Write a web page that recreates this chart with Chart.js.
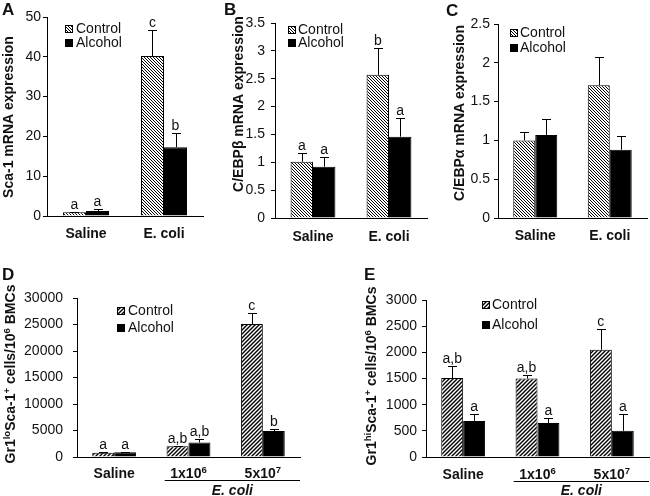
<!DOCTYPE html>
<html>
<head>
<meta charset="utf-8">
<script src="https://cdn.jsdelivr.net/npm/chart.js@4.4.0/dist/chart.umd.min.js"></script>
<style>
    html, body { margin: 0; padding: 0; background: #fff; }
    #wrap { position: relative; width: 650px; height: 496px; }
    #wrap canvas { position: absolute; left: 0; top: 0; }
</style>
</head>
<body>
<div id="wrap">
    <canvas id="panelA" width="650" height="496"></canvas>
    <canvas id="panelB" width="650" height="496"></canvas>
    <canvas id="panelC" width="650" height="496"></canvas>
    <canvas id="panelD" width="650" height="496"></canvas>
    <canvas id="panelE" width="650" height="496"></canvas>
</div>
<script>
// Categories
const mrnaGroups = ['Saline', 'E. coli'];
const cellGroups = ['Saline', '1x10^6', '5x10^7'];
const seriesNames = ['Control', 'Alcohol'];

// A: Sca-1 mRNA
const sca1Control = [0.95, 40.2];
const sca1ControlErr = [0.1, 6.5];
const sca1Alcohol = [1.25, 17.3];
const sca1AlcoholErr = [0.45, 3.6];
const sca1ControlLetters = ['a', 'c'];
const sca1AlcoholLetters = ['a', 'b'];

// B: C/EBPbeta mRNA
const cebpbControl = [1.01, 2.57];
const cebpbControlErr = [0.15, 0.48];
const cebpbAlcohol = [0.92, 1.46];
const cebpbAlcoholErr = [0.17, 0.34];
const cebpbControlLetters = ['a', 'b'];
const cebpbAlcoholLetters = ['a', 'a'];

// C: C/EBPalpha mRNA
const cebpaControl = [1.0, 1.71];
const cebpaControlErr = [0.11, 0.36];
const cebpaAlcohol = [1.07, 0.88];
const cebpaAlcoholErr = [0.2, 0.18];

// D: Gr1lo Sca-1+ cells
const grLoControl = [800, 2050, 25100];
const grLoControlErr = [50, 100, 2000];
const grLoAlcohol = [900, 2750, 4900];
const grLoAlcoholErr = [100, 600, 400];
const grLoControlLetters = ['a', 'a,b', 'c'];
const grLoAlcoholLetters = ['a', 'a,b', 'b'];

// E: Gr1hi Sca-1+ cells
const grHiControl = [1510, 1500, 2050];
const grHiControlErr = [220, 70, 400];
const grHiAlcohol = [690, 650, 500];
const grHiAlcoholErr = [130, 100, 320];
const grHiControlLetters = ['a,b', 'a,b', 'c'];
const grHiAlcoholLetters = ['a', 'a', 'a'];

const FONT = "'Liberation Sans', Arial, Helvetica, sans-serif";
const INK = '#111';
const X_AXIS_H = 10;

/**
 * Build a diagonal hatch fill
 */
function makeHatch(dir) {
    const s = dir === 'back' ? 3 : 4;
    const c = document.createElement('canvas');
    c.width = s; c.height = s;
    const g = c.getContext('2d');
    g.fillStyle = '#fff';
    g.fillRect(0, 0, s, s);
    g.strokeStyle = '#000';
    g.lineWidth = dir === 'back' ? 1 : 1.4;
    g.beginPath();
    if (dir === 'back') {
        g.moveTo(-1, -1); g.lineTo(s + 1, s + 1);
        g.moveTo(-1, s - 1); g.lineTo(1, s + 1);
        g.moveTo(s - 1, -1); g.lineTo(s + 1, 1);
    } else {
        g.moveTo(-1, s + 1); g.lineTo(s + 1, -1);
        g.moveTo(-1, 1); g.lineTo(1, -1);
        g.moveTo(s - 1, s + 1); g.lineTo(s + 1, s - 1);
    }
    g.stroke();
    return g.createPattern(c, 'repeat');
}

/**
 * Split "10^6" / "Gr1^{lo}" into normal and superscript parts
 */
function parseRich(str) {
    const parts = [];
    const re = /\^\{([^}]*)\}|\^(.)/g;
    let last = 0, m;
    while ((m = re.exec(str)) !== null) {
        if (m.index > last) parts.push({ t: str.slice(last, m.index), sup: false });
        parts.push({ t: m[1] !== undefined ? m[1] : m[2], sup: true });
        last = re.lastIndex;
    }
    if (last < str.length) parts.push({ t: str.slice(last), sup: false });
    return parts;
}

function fontFor(size, weight, style) {
    return `${style || 'normal'} ${weight || 'normal'} ${size}px ${FONT}`;
}

// draws text centred on (cx, cy), superscripts smaller and raised
function drawRich(ctx, str, cx, cy, size, weight, style) {
    const parts = parseRich(str);
    const supSize = size * 0.68;
    let total = 0;
    parts.forEach(p => {
        ctx.font = fontFor(p.sup ? supSize : size, weight, style);
        p.w = ctx.measureText(p.t).width;
        total += p.w;
    });
    let x = cx - total / 2;
    const base = cy + size * 0.35;
    ctx.textAlign = 'left';
    ctx.textBaseline = 'alphabetic';
    parts.forEach(p => {
        ctx.font = fontFor(p.sup ? supSize : size, weight, style);
        ctx.fillText(p.t, x, p.sup ? base - size * 0.36 : base);
        x += p.w;
    });
}

/**
 * Per-panel decorations: error bars, letters, labels, legend
 */
function makeDecor(cfg) {
    return {
        id: 'panelDecor',
        afterDatasetsDraw(chart) {
            const ctx = chart.ctx;
            const yScale = chart.scales.y;
            ctx.save();
            ctx.strokeStyle = '#000';
            ctx.lineWidth = 1;
            ctx.fillStyle = INK;
            chart.data.datasets.forEach((ds, di) => {
                const meta = chart.getDatasetMeta(di);
                meta.data.forEach((bar, i) => {
                    const top = Math.round(yScale.getPixelForValue(ds.data[i] + ds.errs[i])) + 0.5;
                    const x = Math.round(bar.x) + 0.5;
                    ctx.beginPath();
                    ctx.moveTo(x, bar.y);
                    ctx.lineTo(x, top);
                    ctx.moveTo(x - 4.5, top);
                    ctx.lineTo(x + 4.5, top);
                    ctx.stroke();
                    if (ds.letters) {
                        ctx.font = fontFor(14);
                        ctx.textAlign = 'center';
                        ctx.textBaseline = 'alphabetic';
                        ctx.fillText(ds.letters[i], bar.x, top - 4);
                    }
                });
            });
            ctx.restore();
        },
        afterDraw(chart) {
            const ctx = chart.ctx;
            const xScale = chart.scales.x;
            const area = chart.chartArea;
            ctx.save();
            ctx.fillStyle = INK;
            ctx.strokeStyle = '#000';

            // category labels
            chart.data.labels.forEach((lab, i) => {
                drawRich(ctx, lab, xScale.getPixelForValue(i), area.bottom + cfg.xLabelDy, 14, 'bold');
            });

            // E. coli group bar under the dose labels
            if (cfg.group) {
                const step = xScale.getPixelForValue(1) - xScale.getPixelForValue(0);
                const x0 = xScale.getPixelForValue(cfg.group.from) - step / 2 + step * 0.18;
                const x1 = area.right;
                ctx.lineWidth = 1;
                ctx.beginPath();
                ctx.moveTo(x0, cfg.group.lineY + 0.5);
                ctx.lineTo(x1, cfg.group.lineY + 0.5);
                ctx.stroke();
                drawRich(ctx, cfg.group.label, (x0 + x1) / 2, cfg.group.textY, 14, 'bold', 'italic');
            }

            // rotated y title
            ctx.save();
            ctx.translate(cfg.yTitlePos[0], cfg.yTitlePos[1]);
            ctx.rotate(-Math.PI / 2);
            drawRich(ctx, cfg.yTitle, 0, 0, 14, 'bold');
            ctx.restore();

            // legend
            const lg = cfg.legend;
            chart.data.datasets.forEach((ds, di) => {
                const cy = lg.y + di * lg.gap;
                const bx = lg.x, by = Math.round(cy - lg.box / 2);
                ctx.fillStyle = ds.backgroundColor;
                ctx.fillRect(bx, by, lg.box, lg.box);
                ctx.lineWidth = 1;
                ctx.strokeRect(bx + 0.5, by + 0.5, lg.box - 1, lg.box - 1);
                ctx.fillStyle = INK;
                ctx.font = fontFor(14);
                ctx.textAlign = 'left';
                ctx.textBaseline = 'middle';
                ctx.fillText(ds.label, lg.textX, cy);
            });

            // panel letter
            ctx.font = fontFor(17, 'bold');
            ctx.textAlign = 'left';
            ctx.textBaseline = 'alphabetic';
            ctx.fillText(cfg.letter, cfg.letterPos[0], cfg.letterPos[1]);
            ctx.restore();
        }
    };
}

function createPanel(cfg) {
    const hatch = makeHatch(cfg.hatch);
    // y axis box spans almost the whole gutter so tick labels are not clipped
    const yAxisW = cfg.area.left - 2;
    new Chart(document.getElementById(cfg.id), {
        type: 'bar',
        data: {
            labels: cfg.groups,
            datasets: [{
                label: seriesNames[0],
                data: cfg.control,
                errs: cfg.controlErr,
                letters: cfg.controlLetters,
                backgroundColor: hatch,
                borderColor: '#000',
                borderWidth: 1
            }, {
                label: seriesNames[1],
                data: cfg.alcohol,
                errs: cfg.alcoholErr,
                letters: cfg.alcoholLetters,
                backgroundColor: '#000',
                borderColor: '#000',
                borderWidth: 1
            }]
        },
        options: {
            responsive: false,
            animation: false,
            devicePixelRatio: 1,
            categoryPercentage: 0.59,
            barPercentage: 1,
            layout: {
                padding: {
                    left: cfg.area.left - yAxisW,
                    right: 650 - cfg.area.right,
                    top: cfg.area.top,
                    bottom: 496 - cfg.area.bottom - X_AXIS_H
                }
            },
            plugins: {
                legend: { display: false },
                tooltip: { enabled: false }
            },
            scales: {
                x: {
                    grid: { display: false },
                    border: { display: true, color: '#000', width: 1 },
                    ticks: { display: false },
                    afterFit: s => { s.height = X_AXIS_H; }
                },
                y: {
                    min: 0,
                    max: cfg.yMax,
                    ticks: {
                        stepSize: cfg.yStep,
                        padding: cfg.tickPad,
                        color: INK,
                        font: { family: FONT, size: 14 },
                        callback: v => String(v)
                    },
                    grid: { drawOnChartArea: false, drawTicks: true, tickLength: 4, color: '#000' },
                    border: { display: true, color: '#000', width: 1 },
                    afterFit: s => { s.width = yAxisW; }
                }
            }
        },
        plugins: [makeDecor(cfg)]
    });
}

createPanel({
    id: 'panelA', letter: 'A', letterPos: [2, 15],
    groups: mrnaGroups,
    control: sca1Control, controlErr: sca1ControlErr, controlLetters: sca1ControlLetters,
    alcohol: sca1Alcohol, alcoholErr: sca1AlcoholErr, alcoholLetters: sca1AlcoholLetters,
    area: { left: 47, right: 203, top: 17, bottom: 216 },
    yMax: 50, yStep: 10, tickPad: 2,
    yTitle: 'Sca-1 mRNA expression', yTitlePos: [8, 117],
    legend: { x: 65, y: 29, gap: 14, box: 8, textX: 76 },
    hatch: 'back', xLabelDy: 17
});

createPanel({
    id: 'panelB', letter: 'B', letterPos: [224, 15],
    groups: mrnaGroups,
    control: cebpbControl, controlErr: cebpbControlErr, controlLetters: cebpbControlLetters,
    alcohol: cebpbAlcohol, alcoholErr: cebpbAlcoholErr, alcoholLetters: cebpbAlcoholLetters,
    area: { left: 275, right: 427, top: 23, bottom: 218 },
    yMax: 3.5, yStep: 0.5, tickPad: 6,
    yTitle: 'C/EBPβ mRNA expression', yTitlePos: [238, 104],
    legend: { x: 288, y: 30, gap: 13, box: 8, textX: 298 },
    hatch: 'back', xLabelDy: 18
});

createPanel({
    id: 'panelC', letter: 'C', letterPos: [446, 16],
    groups: mrnaGroups,
    control: cebpaControl, controlErr: cebpaControlErr, controlLetters: null,
    alcohol: cebpaAlcohol, alcoholErr: cebpaAlcoholErr, alcoholLetters: null,
    area: { left: 498, right: 647, top: 24, bottom: 218 },
    yMax: 2.5, yStep: 0.5, tickPad: 4,
    yTitle: 'C/EBPα mRNA expression', yTitlePos: [459, 113],
    legend: { x: 510, y: 33, gap: 15, box: 8, textX: 520 },
    hatch: 'back', xLabelDy: 17
});

createPanel({
    id: 'panelD', letter: 'D', letterPos: [2, 280],
    groups: cellGroups,
    control: grLoControl, controlErr: grLoControlErr, controlLetters: grLoControlLetters,
    alcohol: grLoAlcohol, alcoholErr: grLoAlcoholErr, alcoholLetters: grLoAlcoholLetters,
    area: { left: 77, right: 300, top: 298, bottom: 457 },
    yMax: 30000, yStep: 5000, tickPad: 10,
    yTitle: 'Gr1^{lo}Sca-1^{+} cells/10^{6} BMCs', yTitlePos: [10, 374],
    legend: { x: 117, y: 311, gap: 17, box: 8, textX: 128 },
    hatch: 'fwd', xLabelDy: 16,
    group: { label: 'E. coli', from: 1, lineY: 480, textY: 490 }
});

createPanel({
    id: 'panelE', letter: 'E', letterPos: [364, 280],
    groups: cellGroups,
    control: grHiControl, controlErr: grHiControlErr, controlLetters: grHiControlLetters,
    alcohol: grHiAlcohol, alcoholErr: grHiAlcoholErr, alcoholLetters: grHiAlcoholLetters,
    area: { left: 426, right: 649, top: 300, bottom: 457 },
    yMax: 3000, yStep: 500, tickPad: 5,
    yTitle: 'Gr1^{hi}Sca-1^{+} cells/10^{6} BMCs', yTitlePos: [371, 376],
    legend: { x: 482, y: 305, gap: 20, box: 8, textX: 492 },
    hatch: 'fwd', xLabelDy: 17,
    group: { label: 'E. coli', from: 1, lineY: 481, textY: 490 }
});
</script>
</body>
</html>
